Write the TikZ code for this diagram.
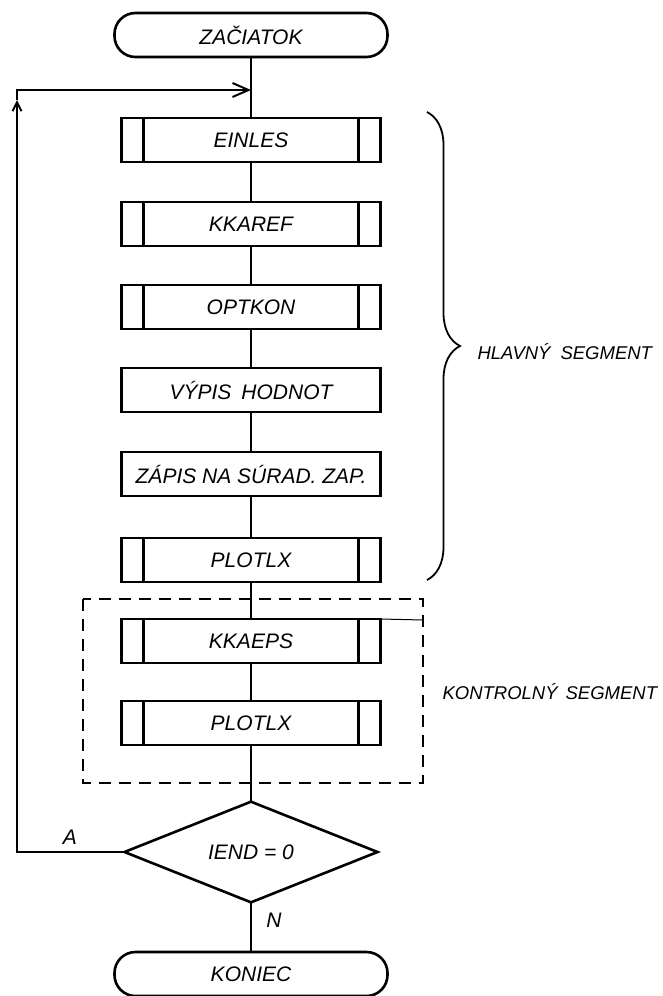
\documentclass[tikz,border=0pt]{standalone}
\usepackage{fontspec}
\setmainfont{Liberation Sans}
\usetikzlibrary{shapes.geometric, arrows.meta, decorations.pathreplacing}

\tikzset{
  base/.style={draw, line width=2.6pt, inner sep=0pt, outer sep=0pt, font=\itshape\fontsize{21}{25}\selectfont},
  term/.style={base, rounded corners=21pt, minimum width=273pt, minimum height=44pt},
  proc/.style={base, minimum width=259pt, minimum height=44pt},
  subproc/.style={proc, path picture={
    \draw[line width=2.6pt] ([xshift=22pt]path picture bounding box.north west) -- ([xshift=22pt]path picture bounding box.south west);
    \draw[line width=2.6pt] ([xshift=-22pt]path picture bounding box.north east) -- ([xshift=-22pt]path picture bounding box.south east);}},
  decide/.style={base, diamond, minimum width=253pt, minimum height=81pt},
  flow/.style={line width=2pt},
  note/.style={font=\itshape\fontsize{18.5}{22}\selectfont}
}

\begin{document}
\begin{tikzpicture}[x=1pt,y=-1pt]
\useasboundingbox (0,0) rectangle (663,996);
\node[term] (start) at (251,35) {ZAČIATOK};
\node[subproc] (einles) at (251,140) {EINLES};
\node[subproc] (kkaref) at (251,224) {KKAREF};
\node[subproc] (optkon) at (251,307) {OPTKON};
\node[proc] (vypis) at (251,390) {VÝPIS\hspace{10pt}HODNOT};
\node[proc] (zapis) at (251,474) {ZÁPIS NA SÚRAD. ZAP.};
\node[subproc] (plotlx) at (251,560) {PLOTLX};
\node[subproc] (kkaeps) at (251,641) {KKAEPS};
\node[subproc] (plotlxb) at (251,723) {PLOTLX};
\node[decide] (iend) at (251,852) {IEND = 0};
\node[term] (koniec) at (251,974) {KONIEC};
\coordinate (join) at (251,90);
\coordinate (back) at (17,100);
\draw[flow] (start) -- (einles) -- (kkaref) -- (optkon) -- (vypis) -- (zapis) -- (plotlx) -- (kkaeps) -- (plotlxb) -- (iend) -- (koniec);
\draw[flow, -{Straight Barb[length=9pt, width=9pt]}] (iend.west) -| (back);
\draw[flow, -{Straight Barb[length=16pt, width=14pt]}] (back) |- (join);
\draw[line width=2.2pt, dash pattern=on 12pt off 8pt] (83,599) rectangle (423,783);
\draw[line width=1pt] (kkaeps.north east) -- (423,620);
\draw[line width=1.8pt, decorate, decoration={brace, amplitude=33pt}] (427,112) -- (427,580);
\node[note, anchor=west] (hlavny) at (474,352) {HLAVNÝ\hspace{10pt}SEGMENT};
\node[note, anchor=west] (kontrol) at (439,692) {KONTROLNÝ\hspace{8pt}SEGMENT};
\node[base, draw=none] (lbla) at (70,837) {A};
\node[base, draw=none] (lbln) at (274,920) {N};
\end{tikzpicture}
\end{document}
